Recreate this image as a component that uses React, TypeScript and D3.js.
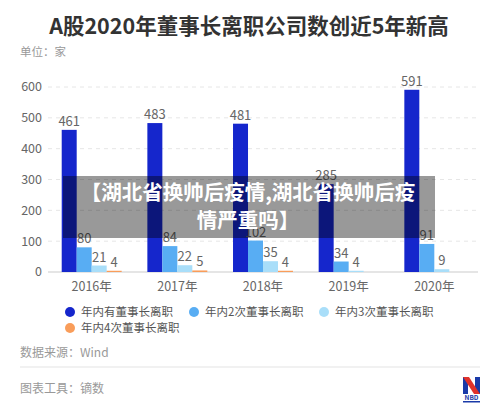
import React from "react";
import * as d3 from "d3";

const years = ["2016年", "2017年", "2018年", "2019年", "2020年"];
const seriesNames = ["年内有董事长离职", "年内2次董事长离职", "年内3次董事长离职", "年内4次董事长离职"];
const s1 = [461, 483, 481, 285, 591];
const s2 = [80, 84, 102, 34, 91];
const s3 = [21, 22, 35, 4, 9];
const s4: (number | null)[] = [4, 5, 4, null, null];
const yTicks = [0, 100, 200, 300, 400, 500, 600];
const colors = ["#1526cc", "#58adf3", "#a9def9", "#f99d5a"];

const FONT = "'Noto Sans CJK SC', 'Noto Sans', sans-serif";

export default function App() {
  const W = 500, H = 415;
  const left = 48, right = 478, top = 87, bottom = 272;
  const x0 = d3.scaleBand<string>().domain(years).range([left, right]).paddingInner(0.3).paddingOuter(0.16);
  const x1 = d3.scaleBand<number>().domain([0, 1, 2, 3]).range([0, x0.bandwidth()]);
  const y = d3.scaleLinear().domain([0, 600]).range([bottom, top]);
  const all = [s1, s2, s3, s4];

  const legendPos = [
    { x: 70, y: 312 }, { x: 194, y: 312 }, { x: 324, y: 312 }, { x: 70, y: 328 },
  ];

  return (
    <svg width={W} height={H} style={{ display: "block", position: "absolute", left: 0, top: 0, background: "#fff" }} fontFamily={FONT}>
      <rect width={W} height={H} fill="#fff" />
      <text x={249} y={34} textAnchor="middle" fontSize={21.5} fontWeight={700} fill="#333">A股2020年董事长离职公司数创近5年新高</text>
      <text x={20} y={56} fontSize={11.5} fill="#999">单位：家</text>

      {yTicks.map((t) => (
        <g key={t}>
          {t > 0 && <line x1={left} x2={right} y1={y(t)} y2={y(t)} stroke="#e6e6e6" strokeDasharray="4 4" />}
          <text x={42} y={y(t)} dy="0.35em" textAnchor="end" fontSize={12.5} fill="#666">{t}</text>
        </g>
      ))}
      <line x1={left} x2={right} y1={bottom} y2={bottom} stroke="#ddd" strokeWidth={1.5} />

      {years.map((yr, i) => (
        <g key={yr} transform={`translate(${x0(yr)},0)`}>
          {all.map((s, k) => {
            const v = s[i];
            if (v === null || v === undefined) return null;
            const bx = x1(k)!;
            const bw = x1.bandwidth();
            return (
              <g key={k}>
                <rect x={bx} y={y(v)} width={bw} height={bottom - y(v)} fill={colors[k]} />
                <text x={bx + bw / 2} y={y(v) - 4} textAnchor="middle" fontSize={13} fill="#666">{v}</text>
              </g>
            );
          })}
        </g>
      ))}
      {years.map((yr) => (
        <text key={yr} x={x0(yr)! + x0.bandwidth() / 2} y={287} dy="0.35em" textAnchor="middle" fontSize={12.5} fill="#666">{yr}</text>
      ))}

      {seriesNames.map((n, k) => (
        <g key={n}>
          <circle cx={legendPos[k].x} cy={legendPos[k].y} r={5} fill={colors[k]} />
          <text x={legendPos[k].x + 11} y={legendPos[k].y} dy="0.35em" fontSize={11.5} fill="#555">{n}</text>
        </g>
      ))}

      <text x={20} y={353} dy="0.35em" fontSize={12} fill="#999">数据来源：Wind</text>
      <line x1={20} x2={480} y1={367} y2={367} stroke="#e3e3e3" />
      <text x={20} y={389} dy="0.35em" fontSize={12} fill="#999">图表工具：镝数</text>

      <g>
        <rect x={463} y={377} width={17} height={17} fill="#fff" />
        <polygon points="463,377 468,377 468,394 463,394" fill="#1a3aa8" />
        <polygon points="475,377 480,377 480,394 475,394" fill="#1a3aa8" />
        <polygon points="463,377 469,377 480,394 474,394" fill="#e0322b" />
        <text x={471.5} y={399.5} textAnchor="middle" fontSize={6.5} fontWeight={700} fill="#1a3aa8">NBD</text>
        <rect x={463} y={401} width={17} height={1.5} fill="#1a3aa8" />
      </g>

      <rect x={63} y={176} width={372} height={62} fill="#000" fillOpacity={0.4} />
      <text x={248} y={193} dy="0.35em" textAnchor="middle" fontSize={20.5} fontWeight={700} fill="#fff">【湖北省换帅后疫情,湖北省换帅后疫</text>
      <text x={248} y={221} dy="0.35em" textAnchor="middle" fontSize={20.5} fontWeight={700} fill="#fff">情严重吗】</text>
    </svg>
  );
}
